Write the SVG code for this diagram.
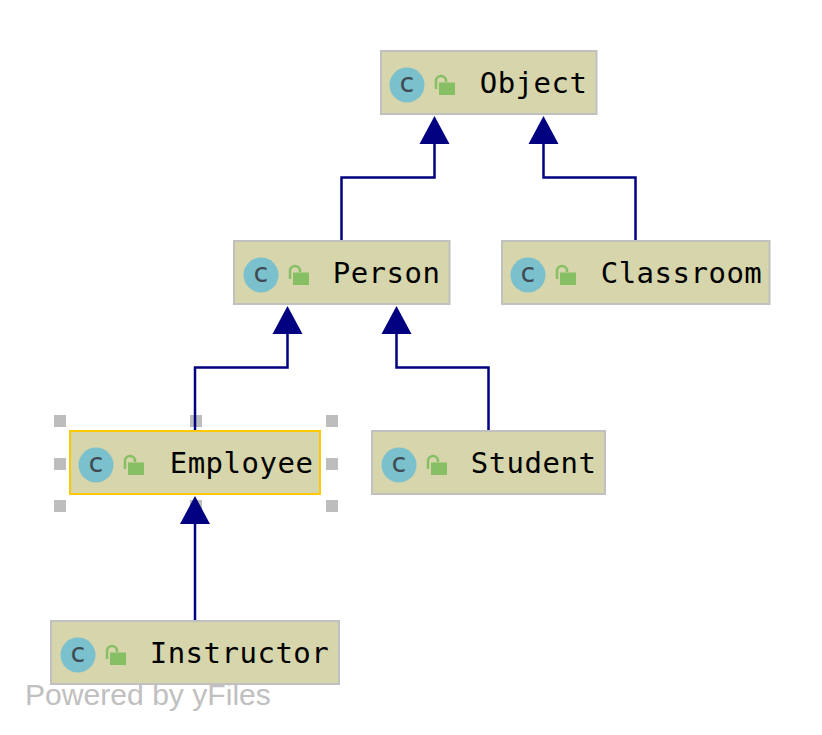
<svg xmlns="http://www.w3.org/2000/svg" width="822" height="735" viewBox="0 0 822 735">
<style>
.box{fill:#d6d5ab;stroke:#c0c0c0;stroke-width:2}
.sel{stroke:#ffc800}
.ic{fill:#7ac1cd}
.cg{font-family:"DejaVu Sans",sans-serif;font-size:26px;fill:#3f4a52;stroke:#3f4a52;stroke-width:.2;text-anchor:middle}
.lk{fill:#87bf65}
.sh{fill:none;stroke:#87bf65;stroke-width:2.5}
.t{font-family:"DejaVu Sans Mono",monospace;font-size:29px;letter-spacing:.5px;fill:#000}
.e{fill:none;stroke:#000080;stroke-width:2.5}
.h{fill:#bdbdbd}
</style>
<defs>
<g id="icon">
<circle class="ic" cx="0" cy="0" r="17.5"/>
<text class="cg" x="0" y="7">c</text>
<rect class="lk" x="32" y="-2.500" width="16" height="12.500"/>
<path class="sh" d="M29 4V-4a5 5 0 0 1 10 0v1"/>
</g>
</defs>
<g id="handles">
<rect class="h" x="54" y="415" width="12" height="12"/>
<rect class="h" x="190" y="415" width="12" height="12"/>
<rect class="h" x="326" y="415" width="12" height="12"/>
<rect class="h" x="54" y="458" width="12" height="12"/>
<rect class="h" x="326" y="458" width="12" height="12"/>
<rect class="h" x="54" y="500" width="12" height="12"/>
<rect class="h" x="190" y="500" width="12" height="12"/>
<rect class="h" x="326" y="500" width="12" height="12"/>
</g>
<g id="connectors">
<path class="e" d="M341.500 240V177.500H434.500V130"/>
<path d="M419.500 144L434.500 116L449.500 144Z" fill="#000080"/>
<path class="e" d="M635.500 240V177.500H543.500V130"/>
<path d="M528.500 144L543.500 116L558.500 144Z" fill="#000080"/>
<path class="e" d="M195 430V367.500H287.500V320"/>
<path d="M272.500 334L287.500 306L302.500 334Z" fill="#000080"/>
<path class="e" d="M488.500 430V367.500H396.500V320"/>
<path d="M381.500 334L396.500 306L411.500 334Z" fill="#000080"/>
<path class="e" d="M195 620V510"/>
<path d="M180 524L195 496L210 524Z" fill="#000080"/>
</g>
<g id="object">
<rect class="box" x="381" y="51" width="215.500" height="63"/>
<use href="#icon" x="407" y="85"/>
<text class="t" x="479.700" y="93">Object</text>
</g>
<g id="person">
<rect class="box" x="234" y="241" width="215.500" height="63"/>
<use href="#icon" x="261" y="275"/>
<text class="t" x="332.700" y="283">Person</text>
</g>
<g id="classroom">
<rect class="box" x="502" y="241" width="267.500" height="63"/>
<use href="#icon" x="528" y="275"/>
<text class="t" x="600.700" y="283">Classroom</text>
</g>
<g id="employee">
<rect class="box sel" x="70" y="431" width="250" height="63"/>
<use href="#icon" x="96" y="465"/>
<text class="t" x="169.700" y="473">Employee</text>
</g>
<g id="student">
<rect class="box" x="372" y="431" width="233" height="63"/>
<use href="#icon" x="399" y="465"/>
<text class="t" x="470.700" y="473">Student</text>
</g>
<g id="instructor">
<rect class="box" x="51" y="621" width="288" height="63"/>
<use href="#icon" x="78" y="655"/>
<text class="t" x="149.700" y="663">Instructor</text>
</g>
<text x="25" y="705" font-family="'Liberation Sans',sans-serif" font-size="30.100" fill="#c0c0c0">Powered by yFiles</text>
</svg>
